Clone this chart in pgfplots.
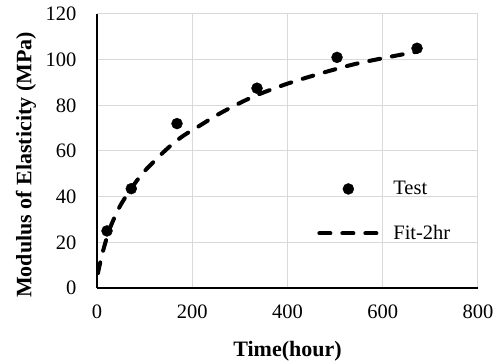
\documentclass[border=0pt]{standalone}
\usepackage{fontspec}
\setmainfont{Liberation Serif}
\usepackage{pgfplots}
\pgfplotsset{compat=1.18}
\definecolor{gridgray}{HTML}{D9D9D9}
\begin{document}
\begin{tikzpicture}
\useasboundingbox (0bp,0bp) rectangle (499bp,361bp);
\begin{axis}[
 at={(97bp,73bp)}, anchor=south west,
 scale only axis, width=381bp, height=274bp,
 xmin=0, xmax=800, ymin=0, ymax=120,
 xtick={0,200,...,800}, ytick={0,20,...,120},
 axis x line=bottom, axis y line=left,
 axis line style={-, black, line width=1.6bp},
 major tick length=0,
 grid=major, major grid style={gridgray, line width=1bp},
 tick label style={font=\fontsize{20.5bp}{24bp}\selectfont},
 /pgf/number format/assume math mode=true,
 xticklabel style={yshift=-13bp},
 yticklabel style={xshift=-17bp},
 xlabel={Time(hour)}, ylabel={Modulus of Elasticity (MPa)},
 label style={font=\bfseries\fontsize{22bp}{26bp}\selectfont},
 xlabel style={at={(axis description cs:0.5,-0.2518)}, anchor=base},
 ylabel style={at={(axis description cs:-0.172,0.449)}, anchor=base},
 legend style={at={(axis description cs:0.57,0.404)}, anchor=north west,
   draw=none, fill=none, row sep=25bp,
   font=\fontsize{20.5bp}{24bp}\selectfont,
   /tikz/every odd column/.append style={column sep=12bp}},
 legend cell align=left,
 legend image code/.code={\draw[mark repeat=2,mark phase=2,#1] plot coordinates {(0bp,0bp) (29bp,0bp) (58bp,0bp)};},
]
\addplot[only marks, mark=*, mark size=5.5bp, black] coordinates {
 (21,25) (72,43.5) (168,72) (336,87.5) (504,101) (672,105)
};
\addlegendentry{Test}
\addplot[black, line width=4bp, line cap=round, dash pattern=on 11bp off 12bp, smooth, tension=0.5] coordinates {
 (2,6.5) (5,9.5) (10,14) (15,18) (25,25) (38,31.5) (50,36.5) (70,43) (94,49.8) (120,55.5) (150,61.5) (180,66.5) (215,71) (250,75.5) (290,80) (336,84.5) (400,89.5) (470,94) (540,98) (609,101) (672,103.5)
};
\addlegendentry{Fit-2hr}
\end{axis}
\end{tikzpicture}
\end{document}
